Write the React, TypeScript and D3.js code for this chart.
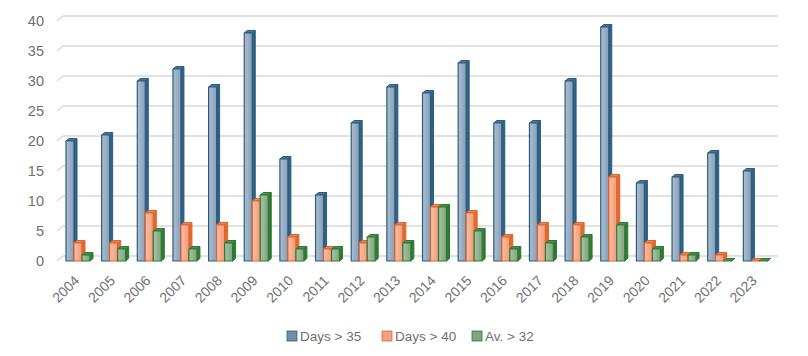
import React from "react";
import * as d3 from "d3";

const years = ["2004","2005","2006","2007","2008","2009","2010","2011","2012","2013","2014","2015","2016","2017","2018","2019","2020","2021","2022","2023"];
const days35 = [20,21,30,32,29,38,17,11,23,29,28,33,23,23,30,39,13,14,18,15];
const days40 = [3,3,8,6,6,10,4,2,3,6,9,8,4,6,6,14,3,1,1,0];
const av32 = [1,2,5,2,3,11,2,2,4,3,9,5,2,3,4,6,2,1,0,0];
const seriesNames = ["Days > 35", "Days > 40", "Av. > 32"];
const yTicks = [0,5,10,15,20,25,30,35,40];

const styles = [
  { id: "gb", g1: "#aebfd0", g2: "#869eb7", stroke: "#2b5d7e", side: "#2f6286", top: "#4a7797", legend: "#6f8eab" },
  { id: "go", g1: "#f9c0a6", g2: "#f39a76", stroke: "#df652d", side: "#e06a2f", top: "#ea8653", legend: "#f4a07e" },
  { id: "gg", g1: "#a9c3a9", g2: "#7da37d", stroke: "#2f7a33", side: "#2f7a33", top: "#4a8e4c", legend: "#7fa47f" },
];

export default function App() {
  const W = 808, H = 356;
  const x = d3.scaleBand<string>().domain(years).range([58, 771]).paddingInner(0).paddingOuter(0);
  const y = d3.scaleLinear().domain([0, 40]).range([261, 21]);
  const dx = 6, dy = 5; // wall depth
  const bw = 8, bd = 3, bdy = 2.5; // bar width, bar depth
  const data = [days35, days40, av32];

  return (
    <svg width={W} height={H} style={{ position: "absolute", left: 0, top: 0, background: "#fff" }} fontFamily="'Liberation Sans', Arial, sans-serif">
      <defs>
        {styles.map((s) => (
          <linearGradient key={s.id} id={s.id} x1="0" x2="1" y1="0" y2="0">
            <stop offset="0%" stopColor={s.g1} />
            <stop offset="100%" stopColor={s.g2} />
          </linearGradient>
        ))}
      </defs>
      {yTicks.map((t) => (
        <g key={t}>
          <polyline
            points={`${57},${y(t)} ${57 + dx},${y(t) - dy} ${778},${y(t) - dy}`}
            fill="none" stroke="#d9d9d9" strokeWidth={1.5} />
          <text x={44} y={y(t)} dy="0.35em" textAnchor="end" fontSize={14.5} fill="#707070">{t}</text>
        </g>
      ))}
      {years.map((yr, i) => {
        const x0 = (x(yr) as number) + 8;
        return (
          <g key={yr}>
            {data.map((arr, k) => {
              const s = styles[k];
              const bx = x0 + k * bw;
              const top = y(arr[i]);
              const base = y(0);
              return (
                <g key={k} strokeLinejoin="round">
                  <polygon points={`${bx + bw},${top} ${bx + bw + bd},${top - bdy} ${bx + bw + bd},${base - bdy} ${bx + bw},${base}`} fill={s.side} stroke={s.stroke} strokeWidth={1} />
                  <polygon points={`${bx},${top} ${bx + bd},${top - bdy} ${bx + bw + bd},${top - bdy} ${bx + bw},${top}`} fill={s.top} stroke={s.stroke} strokeWidth={1} />
                  {arr[i] > 0 && (
                    <rect x={bx} y={top} width={bw} height={base - top} fill={`url(#${s.id})`} stroke={s.stroke} strokeWidth={1.2} />
                  )}
                </g>
              );
            })}
            <text transform={`translate(${(x(yr) as number) + x.bandwidth() / 2 + 1},${278}) rotate(-45)`} textAnchor="end" dy="0.35em" fontSize={14} fill="#707070">{yr}</text>
          </g>
        );
      })}
      {(() => {
        const pos = [287, 382, 472];
        return seriesNames.map((n, k) => (
          <g key={n}>
            <rect x={pos[k]} y={331} width={10} height={10} fill={styles[k].legend} stroke={styles[k].stroke} strokeWidth={0.8} />
            <text x={pos[k] + 13} y={336} dy="0.35em" fontSize={13.5} fill="#707070">{n}</text>
          </g>
        ));
      })()}
    </svg>
  );
}
